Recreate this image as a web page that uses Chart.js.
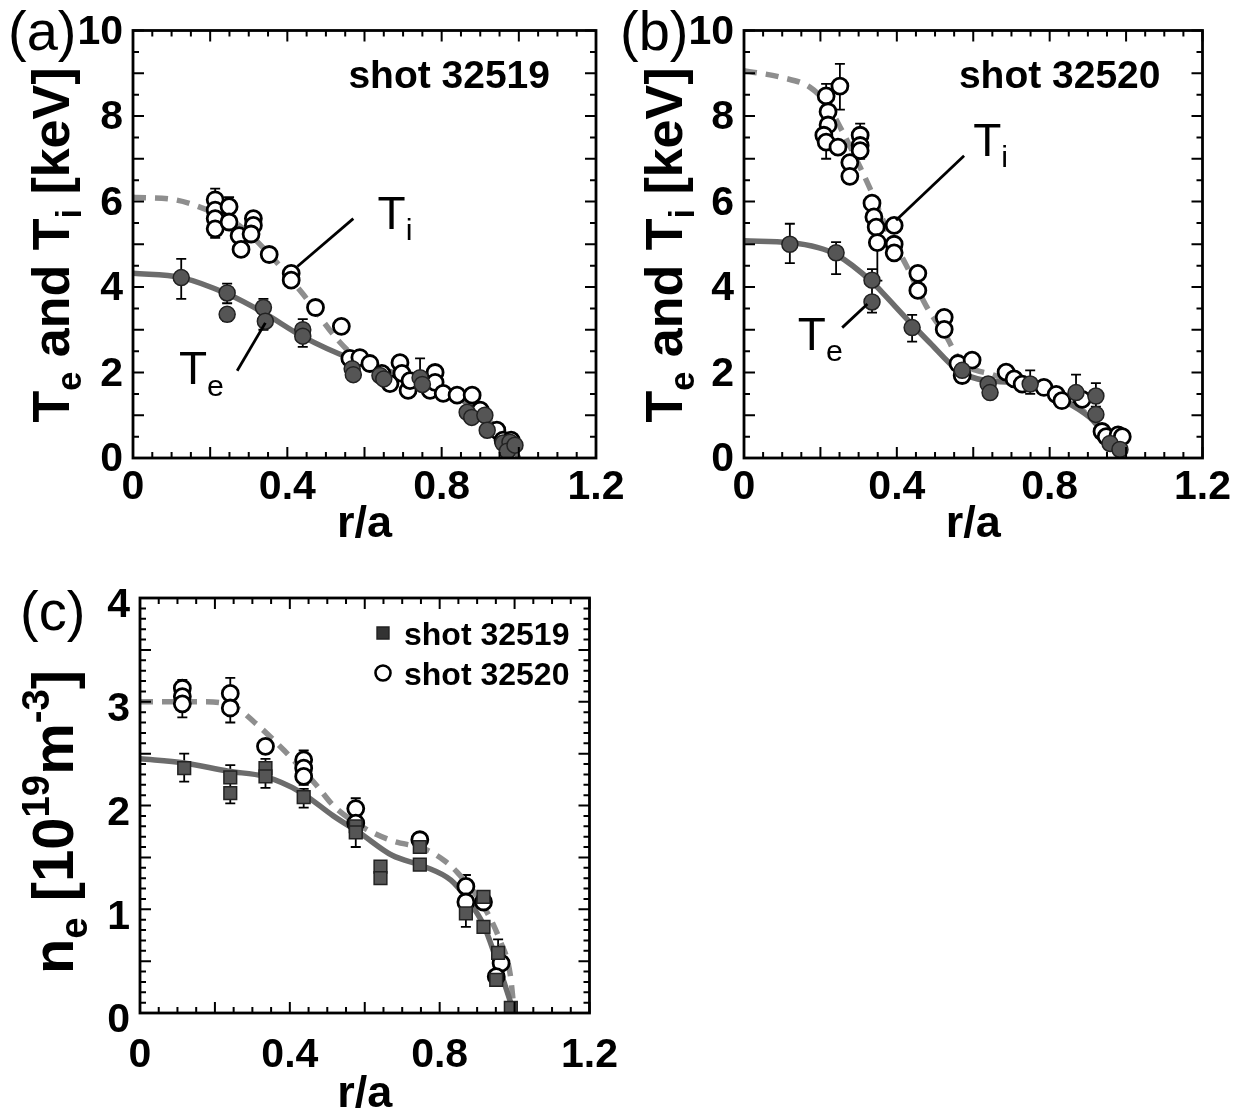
<!DOCTYPE html>
<html>
<head>
<meta charset="utf-8">
<script src="https://cdn.jsdelivr.net/npm/chart.js@4.4.1/dist/chart.umd.min.js"></script>
<style>
  body { margin: 0; background: #fff; width: 1240px; height: 1118px; position: relative; overflow: hidden; }
  canvas { position: absolute; }
</style>
</head>
<body>
<canvas id="chartA" width="640" height="560" style="left:0;top:0"></canvas>
<canvas id="chartB" width="640" height="560" style="left:600px;top:0"></canvas>
<canvas id="chartC" width="640" height="558" style="left:0;top:560px"></canvas>
<script>
const FONT = "'Liberation Sans', Arial, sans-serif";

// tick labels
const rTicks = [0, 0.4, 0.8, 1.2];
const rTickLabels = ["0", "0.4", "0.8", "1.2"];
const tTicks = [0, 2, 4, 6, 8, 10];
const tTickLabels = ["0", "2", "4", "6", "8", "10"];
const nTicks = [0, 1, 2, 3, 4];
const nTickLabels = ["0", "1", "2", "3", "4"];

// (a) shot 32519 - fitted profiles
const aTeFitR = [0, 0.125, 0.244, 0.338, 0.44, 0.566, 0.69, 0.795, 0.878, 0.94, 0.982, 1.0];
const aTeFitT = [4.32, 4.22, 3.84, 3.40, 2.84, 2.32, 1.96, 1.64, 1.2, 0.64, 0.24, 0];
const aTiFitR = [0, 0.109, 0.182, 0.275, 0.358, 0.44, 0.535, 0.6, 0.7, 0.8, 0.88, 0.94, 0.99];
const aTiFitT = [6.1, 6.04, 5.84, 5.44, 4.72, 3.84, 2.72, 2.2, 1.9, 1.62, 1.25, 0.7, 0.1];
// (a) measured Ti (open) and Te (filled)
const aTiR = [0.213, 0.213, 0.213, 0.213, 0.249, 0.249, 0.275, 0.28, 0.312, 0.312, 0.306, 0.353, 0.41, 0.41,
  0.473, 0.54, 0.562, 0.588, 0.614, 0.645, 0.666, 0.692, 0.697, 0.713, 0.718, 0.77, 0.783, 0.783, 0.804,
  0.84, 0.879, 0.9, 0.943, 0.959, 0.98];
const aTiT = [6.04, 5.8, 5.6, 5.36, 5.88, 5.52, 5.2, 4.88, 5.6, 5.44, 5.24, 4.76, 4.32, 4.16,
  3.52, 3.08, 2.33, 2.35, 2.21, 1.98, 1.74, 2.23, 1.98, 1.58, 1.81, 1.58, 2.0, 1.77, 1.51,
  1.47, 1.47, 1.12, 0.65, 0.42, 0.42];
const aTeR = [0.125, 0.244, 0.244, 0.338, 0.343, 0.44, 0.44, 0.568, 0.571, 0.64, 0.65, 0.744, 0.75,
  0.866, 0.878, 0.912, 0.918, 0.959, 0.977, 0.97, 0.99];
const aTeT = [4.22, 3.86, 3.36, 3.52, 3.2, 3.0, 2.85, 2.09, 1.95, 1.93, 1.85, 1.88, 1.72,
  1.07, 0.95, 1.0, 0.65, 0.35, 0.37, 0.16, 0.3];
const aErrR = [0.125, 0.244, 0.244, 0.338, 0.44, 0.744, 0.213, 0.249];
const aErrLo = [3.72, 3.62, 3.2, 3.0, 2.6, 1.6, 5.15, 5.7];
const aErrHi = [4.66, 4.08, 3.5, 3.72, 3.25, 2.33, 6.3, 6.1];

// (b) shot 32520 - fitted profiles
const bTeFitR = [0, 0.12, 0.194, 0.241, 0.335, 0.361, 0.435, 0.487, 0.56, 0.634, 0.749, 0.822, 0.906, 0.958, 0.99];
const bTeFitT = [5.08, 5.04, 4.92, 4.76, 4.12, 3.88, 3.17, 2.69, 2.05, 1.81, 1.73, 1.41, 0.94, 0.38, 0];
const bTiFitR = [0, 0.1, 0.173, 0.215, 0.251, 0.304, 0.33, 0.372, 0.424, 0.476, 0.529, 0.565, 0.65, 0.75, 0.85, 0.93, 0.99];
const bTiFitT = [9.06, 8.9, 8.67, 8.3, 7.75, 6.8, 6.3, 5.4, 4.52, 3.57, 2.85, 2.29, 1.95, 1.7, 1.35, 0.75, 0.1];
// (b) measured Ti (open) and Te (filled)
const bTiR = [0.215, 0.251, 0.22, 0.22, 0.209, 0.215, 0.246, 0.277, 0.277, 0.304, 0.304, 0.304, 0.335, 0.34,
  0.346, 0.349, 0.393, 0.393, 0.393, 0.455, 0.455, 0.524, 0.524, 0.56, 0.597, 0.571, 0.686, 0.707, 0.728,
  0.785, 0.817, 0.832, 0.885, 0.937, 0.948, 0.979, 0.99];
const bTiT = [8.47, 8.7, 8.1, 7.79, 7.55, 7.39, 7.27, 6.91, 6.59, 7.55, 7.31, 7.19, 5.96, 5.64,
  5.4, 5.04, 5.44, 5.0, 4.8, 4.32, 3.92, 3.29, 3.01, 2.21, 2.29, 1.93, 2.01, 1.85, 1.73,
  1.65, 1.49, 1.34, 1.37, 0.62, 0.5, 0.54, 0.5];
const bTeR = [0.12, 0.241, 0.335, 0.335, 0.44, 0.571, 0.639, 0.644, 0.749, 0.869, 0.921, 0.921, 0.958, 0.984];
const bTeT = [5.0, 4.8, 4.16, 3.65, 3.05, 2.05, 1.73, 1.53, 1.73, 1.53, 1.45, 1.02, 0.34, 0.2];
const bErrR = [0.12, 0.241, 0.335, 0.44, 0.749, 0.869, 0.921, 0.251, 0.215, 0.304, 0.349];
const bErrLo = [4.56, 4.3, 3.4, 2.72, 1.5, 1.3, 1.2, 8.15, 7.0, 7.0, 4.15];
const bErrHi = [5.48, 5.05, 4.42, 3.35, 2.05, 1.95, 1.75, 9.22, 8.75, 7.82, 5.05];

// (c) electron density, both shots
const cFit19R = [0, 0.118, 0.236, 0.332, 0.428, 0.516, 0.585, 0.673, 0.76, 0.83, 0.873, 0.917, 0.951, 0.977, 0.995];
const cFit19N = [2.45, 2.41, 2.33, 2.28, 2.13, 1.9, 1.74, 1.52, 1.41, 1.28, 1.1, 0.85, 0.52, 0.24, 0.04];
const cFit20R = [0, 0.165, 0.254, 0.306, 0.385, 0.47, 0.516, 0.6, 0.673, 0.76, 0.812, 0.846, 0.917, 0.961, 0.988, 0.998];
const cFit20N = [3.0, 3.0, 2.95, 2.8, 2.53, 2.2, 2.0, 1.78, 1.66, 1.58, 1.47, 1.36, 1.03, 0.7, 0.38, 0.05];
const c19R = [0.118, 0.241, 0.241, 0.335, 0.335, 0.437, 0.576, 0.576, 0.642, 0.642, 0.747, 0.747, 0.87, 0.917, 0.917, 0.956, 0.951, 0.99];
const c19N = [2.36, 2.27, 2.12, 2.36, 2.28, 2.08, 1.8, 1.74, 1.41, 1.3, 1.6, 1.43, 0.96, 1.12, 0.83, 0.58, 0.32, 0.05];
const c20R = [0.113, 0.113, 0.113, 0.241, 0.241, 0.335, 0.437, 0.437, 0.437, 0.576, 0.576, 0.747, 0.87, 0.87, 0.917, 0.964, 0.951];
const c20N = [3.13, 3.05, 2.98, 3.08, 2.94, 2.57, 2.44, 2.36, 2.28, 1.97, 1.83, 1.67, 1.22, 1.07, 1.07, 0.48, 0.35];
const cErrR = [0.118, 0.241, 0.335, 0.437, 0.576, 0.87, 0.956, 0.113, 0.241, 0.437, 0.576, 0.87];
const cErrLo = [2.23, 2.02, 2.17, 1.98, 1.6, 0.83, 0.5, 2.85, 2.8, 2.2, 1.7, 1.0];
const cErrHi = [2.5, 2.39, 2.45, 2.16, 1.9, 1.05, 0.71, 3.21, 3.23, 2.53, 2.07, 1.33];

const pts = (rs, vs) => rs.map((r, i) => ({ x: r, y: vs[i] }));
const errs = (rs, lo, hi) => rs.map((r, i) => ({ r: r, lo: lo[i], hi: hi[i] }));

function fitLine(rs, vs, dashed, color) {
  return {
    data: pts(rs, vs), showLine: true, pointRadius: 0, borderWidth: 5.5,
    borderColor: color, borderDash: dashed ? [13, 9] : [],
    cubicInterpolationMode: "monotone", order: 5
  };
}
function openMarks(rs, vs) {
  return {
    data: pts(rs, vs), pointStyle: "circle", pointRadius: 8, borderWidth: 2.8,
    borderColor: "#000", backgroundColor: "#fff", order: 2
  };
}
function filledMarks(rs, vs, style) {
  return {
    data: pts(rs, vs), pointStyle: style, pointRadius: style === "rect" ? 9 : 8, borderWidth: 1.5,
    borderColor: "#222", backgroundColor: "#555", order: 1
  };
}

// text with sub/superscripts: parts = [[text, "n"|"sub"|"sup"], ...]
function richWidth(ctx, parts, size, weight) {
  let w = 0;
  parts.forEach(([t, m]) => {
    ctx.font = weight + " " + (m === "n" ? size : size * 0.66) + "px " + FONT;
    w += ctx.measureText(t).width;
  });
  return w;
}
function drawRich(ctx, parts, x, y, size, weight) {
  let cx = x;
  parts.forEach(([t, m]) => {
    const s = m === "n" ? size : size * 0.66;
    const dy = m === "sub" ? size * 0.24 : m === "sup" ? -size * 0.42 : 0;
    ctx.font = weight + " " + s + "px " + FONT;
    ctx.fillText(t, cx, y + dy);
    cx += ctx.measureText(t).width;
  });
}

function makeDecor(d) {
  return {
    id: "decor",
    beforeDatasetsDraw(chart) {
      const { ctx, scales: { x, y } } = chart;
      ctx.save();
      ctx.strokeStyle = "#000";
      ctx.lineWidth = 1.8;
      d.errors.forEach(e => {
        const px = x.getPixelForValue(e.r);
        const p1 = y.getPixelForValue(e.lo), p2 = y.getPixelForValue(e.hi);
        ctx.beginPath();
        ctx.moveTo(px, p1); ctx.lineTo(px, p2);
        ctx.moveTo(px - 5, p1); ctx.lineTo(px + 5, p1);
        ctx.moveTo(px - 5, p2); ctx.lineTo(px + 5, p2);
        ctx.stroke();
      });
      ctx.restore();
    },
    afterDraw(chart) {
      const { ctx, chartArea: a, scales: { x, y } } = chart;
      ctx.save();
      ctx.strokeStyle = "#000";
      ctx.fillStyle = "#000";

      // inward ticks on all four sides
      ctx.lineWidth = 2;
      ctx.beginPath();
      const nx = Math.round(x.max / d.xMinor);
      for (let i = 0; i <= nx; i++) {
        const v = i * d.xMinor;
        const px = x.getPixelForValue(v);
        const k = v / d.xMajor;
        const len = Math.abs(k - Math.round(k)) < 1e-6 ? 11 : 6;
        ctx.moveTo(px, a.bottom); ctx.lineTo(px, a.bottom - len);
        ctx.moveTo(px, a.top); ctx.lineTo(px, a.top + len);
      }
      const ny = Math.round(y.max / d.yMinor);
      for (let i = 0; i <= ny; i++) {
        const v = i * d.yMinor;
        const py = y.getPixelForValue(v);
        const k = v / d.yMajor;
        const len = Math.abs(k - Math.round(k)) < 1e-6 ? 11 : 6;
        ctx.moveTo(a.left, py); ctx.lineTo(a.left + len, py);
        ctx.moveTo(a.right, py); ctx.lineTo(a.right - len, py);
      }
      ctx.stroke();
      ctx.lineWidth = 2.8;
      ctx.strokeRect(a.left, a.top, a.right - a.left, a.bottom - a.top);

      // leader lines for the curve labels
      ctx.lineWidth = 2.8;
      d.leaders.forEach(l => {
        ctx.beginPath();
        ctx.moveTo(x.getPixelForValue(l[0]), y.getPixelForValue(l[1]));
        ctx.lineTo(x.getPixelForValue(l[2]), y.getPixelForValue(l[3]));
        ctx.stroke();
      });

      ctx.textBaseline = "alphabetic";
      ctx.textAlign = "left";
      d.labels.forEach(t => {
        drawRich(ctx, t.parts, x.getPixelForValue(t.r), y.getPixelForValue(t.v), t.size, "normal");
      });

      // rotated y title
      const yt = d.yTitle;
      ctx.save();
      ctx.translate(yt.x, yt.y);
      ctx.rotate(-Math.PI / 2);
      const w = richWidth(ctx, yt.parts, yt.size, "bold");
      drawRich(ctx, yt.parts, -w / 2, yt.size * 0.36, yt.size, "bold");
      ctx.restore();

      // panel letter and shot tag
      ctx.font = "normal " + d.panel.size + "px " + FONT;
      ctx.fillText(d.panel.text, d.panel.x, d.panel.y);
      if (d.shot) {
        ctx.font = "bold " + d.shot.size + "px " + FONT;
        ctx.textAlign = "right";
        ctx.fillText(d.shot.text, a.right - d.shot.dx, a.top + d.shot.dy);
        ctx.textAlign = "left";
      }

      // legend (panel c)
      if (d.legend) {
        d.legend.forEach(item => {
          const lx = a.left + item.dx, ly = a.top + item.dy;
          ctx.lineWidth = item.open ? 2.6 : 1.4;
          ctx.strokeStyle = item.open ? "#000" : "#222";
          ctx.fillStyle = item.open ? "#fff" : "#333";
          ctx.beginPath();
          if (item.open) ctx.arc(lx, ly, 7.5, 0, Math.PI * 2);
          else ctx.rect(lx - 6, ly - 6, 12, 12);
          ctx.fill(); ctx.stroke();
          ctx.fillStyle = "#000";
          ctx.font = "bold " + item.size + "px " + FONT;
          ctx.fillText(item.text, lx + 21, ly + 12);
        });
      }
      ctx.restore();
    }
  };
}

function makePanel(id, p) {
  const tickFont = { family: FONT, size: 41, weight: "bold", lineHeight: 1 };
  new Chart(document.getElementById(id), {
    type: "scatter",
    data: { datasets: p.datasets },
    options: {
      responsive: false,
      animation: false,
      devicePixelRatio: 1,
      layout: { autoPadding: false, padding: { top: p.top, right: p.right, bottom: 0, left: 0 } },
      plugins: { legend: { display: false }, tooltip: { enabled: false } },
      scales: {
        x: {
          type: "linear", min: 0, max: 1.2,
          afterBuildTicks: s => { s.ticks = rTicks.map(v => ({ value: v })); },
          afterFit: s => { s.height = p.xAxisH; },
          ticks: { callback: (v, i) => rTickLabels[i], font: tickFont, color: "#000", padding: p.xTickPad, maxRotation: 0, autoSkip: false },
          grid: { display: false, drawTicks: false },
          border: { display: false },
          title: { display: true, text: "r/a", color: "#000", font: { family: FONT, size: 45, weight: "bold", lineHeight: 1 }, padding: { top: 0, bottom: p.titlePad } }
        },
        y: {
          type: "linear", min: 0, max: p.yMax,
          afterBuildTicks: s => { s.ticks = p.yTicks.map(v => ({ value: v })); },
          afterFit: s => { s.width = p.yAxisW; },
          ticks: { callback: (v, i) => p.yTickLabels[i], font: tickFont, color: "#000", padding: 10, labelOffset: p.yLabelOffset, autoSkip: false },
          grid: { display: false, drawTicks: false },
          border: { display: false }
        }
      }
    },
    plugins: [makeDecor(p.decor)]
  });
}

const teTitle = [["T", "n"], ["e", "sub"], [" and T", "n"], ["i", "sub"], [" [keV]", "n"]];
const tiLabel = [["T", "n"], ["i", "sub"]];
const teLabel = [["T", "n"], ["e", "sub"]];

makePanel("chartA", {
  top: 27, right: 44, yAxisW: 133, xAxisH: 102, xTickPad: 9, titlePad: 13, yLabelOffset: 2, yMax: 10,
  yTicks: tTicks, yTickLabels: tTickLabels,
  datasets: [
    fitLine(aTeFitR, aTeFitT, false, "#6c6c6c"),
    fitLine(aTiFitR, aTiFitT, true, "#8e8e8e"),
    openMarks(aTiR, aTiT),
    filledMarks(aTeR, aTeT, "circle")
  ],
  decor: {
    xMinor: 0.05, xMajor: 0.2, yMinor: 0.5, yMajor: 1,
    errors: errs(aErrR, aErrLo, aErrHi),
    leaders: [[0.571, 5.6, 0.426, 4.48], [0.27, 2.04, 0.343, 3.16]],
    labels: [{ parts: tiLabel, r: 0.634, v: 5.36, size: 46 }, { parts: teLabel, r: 0.119, v: 1.72, size: 46 }],
    yTitle: { parts: teTitle, x: 50, y: 245, size: 52 },
    panel: { text: "(a)", x: 8, y: 50, size: 56 },
    shot: { text: "shot 32519", size: 39, dx: 46, dy: 57 }
  }
});

makePanel("chartB", {
  top: 27, right: 33, yAxisW: 144, xAxisH: 102, xTickPad: 9, titlePad: 13, yLabelOffset: 2, yMax: 10,
  yTicks: tTicks, yTickLabels: tTickLabels,
  datasets: [
    fitLine(bTeFitR, bTeFitT, false, "#6c6c6c"),
    fitLine(bTiFitR, bTiFitT, true, "#8e8e8e"),
    openMarks(bTiR, bTiT),
    filledMarks(bTeR, bTeT, "circle")
  ],
  decor: {
    xMinor: 0.05, xMajor: 0.2, yMinor: 0.5, yMajor: 1,
    errors: errs(bErrR, bErrLo, bErrHi),
    leaders: [[0.576, 7.07, 0.398, 5.56], [0.257, 3.05, 0.323, 3.6]],
    labels: [{ parts: tiLabel, r: 0.6, v: 7.07, size: 46 }, { parts: teLabel, r: 0.141, v: 2.53, size: 46 }],
    yTitle: { parts: teTitle, x: 63, y: 245, size: 52 },
    panel: { text: "(b)", x: 20, y: 50, size: 56 },
    shot: { text: "shot 32520", size: 39, dx: 42, dy: 57 }
  }
});

makePanel("chartC", {
  top: 38, right: 42, yAxisW: 140, xAxisH: 105, xTickPad: 22, titlePad: 1, yLabelOffset: 8, yMax: 4,
  yTicks: nTicks, yTickLabels: nTickLabels,
  datasets: [
    fitLine(cFit19R, cFit19N, false, "#6c6c6c"),
    fitLine(cFit20R, cFit20N, true, "#8e8e8e"),
    openMarks(c20R, c20N),
    filledMarks(c19R, c19N, "rect")
  ],
  decor: {
    xMinor: 0.05, xMajor: 0.2, yMinor: 0.1, yMajor: 0.5,
    errors: errs(cErrR, cErrLo, cErrHi),
    leaders: [],
    labels: [],
    yTitle: { parts: [["n", "n"], ["e", "sub"], [" [10", "n"], ["19", "sup"], ["m", "n"], ["-3", "sup"], ["]", "n"]], x: 52, y: 262, size: 58 },
    panel: { text: "(c)", x: 20, y: 70, size: 56 },
    legend: [
      { text: "shot 32519", open: false, dx: 243, dy: 35, size: 32 },
      { text: "shot 32520", open: true, dx: 243, dy: 75, size: 32 }
    ]
  }
});
</script>
</body>
</html>
